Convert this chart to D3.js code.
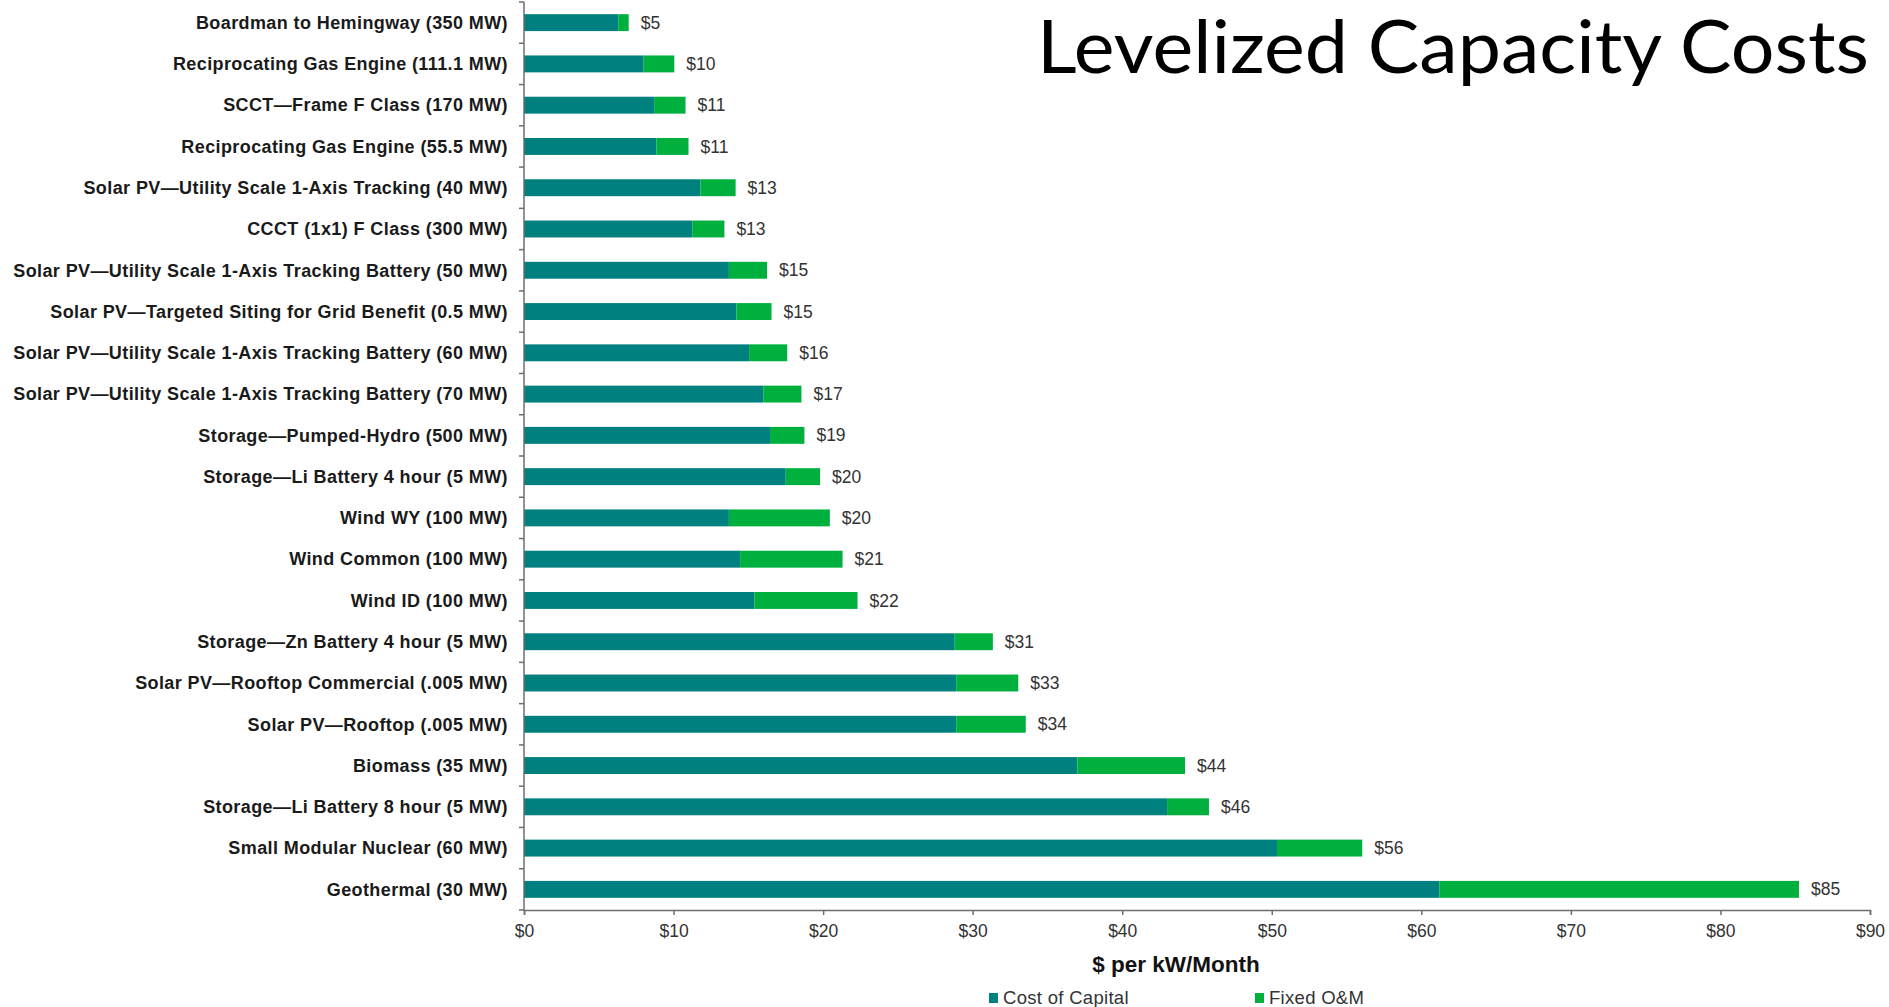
<!DOCTYPE html>
<html>
<head>
<meta charset="utf-8">
<script src="https://cdn.jsdelivr.net/npm/d3@7"></script>
<style>
  html, body { margin: 0; padding: 0; background: #ffffff; }
  svg { display: block; }
  .cat-label { font-family: "Liberation Sans", Arial, sans-serif; font-weight: bold; font-size: 18px; letter-spacing: 0.4px; fill: #1a1a1a; }
  .val-label { font-family: "Liberation Sans", Arial, sans-serif; font-size: 17.5px; fill: #333333; }
  .x-axis text { font-family: "Liberation Sans", Arial, sans-serif; font-size: 17.5px; fill: #333333; }
  .axis-title { font-family: "Liberation Sans", Arial, sans-serif; font-weight: bold; font-size: 22.5px; fill: #111111; }
  .legend text { font-family: "Liberation Sans", Arial, sans-serif; font-size: 18.5px; letter-spacing: 0.3px; fill: #333333; }
  .title { font-family: Lato, "Open Sans", sans-serif; font-size: 74px; fill: #000000; }
</style>
</head>
<body>
<svg id="chart" width="1889" height="1007"></svg>
<script>
// Resource options, top to bottom
const categories = [
  "Boardman to Hemingway (350 MW)",
  "Reciprocating Gas Engine (111.1 MW)",
  "SCCT\u2014Frame F Class (170 MW)",
  "Reciprocating Gas Engine (55.5 MW)",
  "Solar PV\u2014Utility  Scale 1-Axis Tracking (40 MW)",
  "CCCT (1x1) F Class (300 MW)",
  "Solar PV\u2014Utility  Scale 1-Axis Tracking Battery (50 MW)",
  "Solar PV\u2014Targeted Siting for Grid Benefit (0.5 MW)",
  "Solar PV\u2014Utility  Scale 1-Axis Tracking Battery (60 MW)",
  "Solar PV\u2014Utility  Scale 1-Axis Tracking Battery (70 MW)",
  "Storage\u2014Pumped-Hydro (500 MW)",
  "Storage\u2014Li Battery 4 hour (5 MW)",
  "Wind WY (100 MW)",
  "Wind Common (100 MW)",
  "Wind ID (100 MW)",
  "Storage\u2014Zn Battery 4 hour (5 MW)",
  "Solar PV\u2014Rooftop  Commercial (.005 MW)",
  "Solar PV\u2014Rooftop  (.005 MW)",
  "Biomass (35 MW)",
  "Storage\u2014Li Battery 8 hour (5 MW)",
  "Small Modular Nuclear (60 MW)",
  "Geothermal (30 MW)"
];

// $ per kW/Month
const costOfCapital = [6.3, 8.0, 8.7, 8.85, 11.8, 11.25, 13.7, 14.2, 15.05, 16.0, 16.45, 17.5,
                       13.7, 14.45, 15.4, 28.8, 28.9, 28.9, 37.0, 43.0, 50.35, 61.2];
const fixedOM       = [0.7, 2.05, 2.1, 2.15, 2.35, 2.15, 2.55, 2.35, 2.55, 2.55, 2.3, 2.3,
                       6.75, 6.85, 6.9, 2.55, 4.15, 4.65, 7.2, 2.8, 5.7, 24.05];

// Published total labels printed beside each bar
const totalLabels = ["$5", "$10", "$11", "$11", "$13", "$13", "$15", "$15", "$16", "$17", "$19", "$20",
                     "$20", "$21", "$22", "$31", "$33", "$34", "$44", "$46", "$56", "$85"];

const xTicks = [0, 10, 20, 30, 40, 50, 60, 70, 80, 90];
const seriesNames = ["Cost of Capital", "Fixed O&M"];
const seriesColors = ["#00817f", "#00b03f"];

const svg = d3.select("#chart");

const plot = { left: 524, right: 1870, top: 2, bottom: 910 };

const x = d3.scaleLinear().domain([0, 90]).range([plot.left, plot.right]);
const y = d3.scaleBand().domain(categories).range([plot.top, plot.bottom])
  .paddingInner(0.59).paddingOuter(0.295);

// Stack the two cost components
const rows = categories.map((c, i) => ({ cat: c, cap: costOfCapital[i], om: fixedOM[i], label: totalLabels[i] }));
const stack = d3.stack().keys(["cap", "om"]);
const layers = stack(rows);

svg.append("g").selectAll("g")
  .data(layers)
  .join("g")
  .attr("fill", (d, i) => seriesColors[i])
  .selectAll("rect")
  .data(d => d)
  .join("rect")
  .attr("x", d => x(d[0]))
  .attr("y", d => y(d.data.cat))
  .attr("width", d => x(d[1]) - x(d[0]))
  .attr("height", y.bandwidth());

// Value labels
svg.append("g").selectAll("text")
  .data(rows)
  .join("text")
  .attr("class", "val-label")
  .attr("x", d => x(d.cap + d.om) + 12)
  .attr("y", d => y(d.cat) + y.bandwidth() / 2)
  .attr("dy", "0.35em")
  .text(d => d.label);

// Category axis
const yAxis = svg.append("g")
  .attr("transform", `translate(${plot.left},0)`)
  .call(d3.axisLeft(y).tickSize(0).tickPadding(16));
yAxis.select(".domain").remove();
yAxis.selectAll("text").attr("class", "cat-label").attr("dy", "0.35em");

// Tick marks between categories
const step = y.step();
const gap = (step - y.bandwidth()) / 2;
const bounds = categories.map(c => y(c) - gap).concat([y(categories[categories.length - 1]) + y.bandwidth() + gap]);
svg.append("g").selectAll("line")
  .data(bounds)
  .join("line")
  .attr("x1", plot.left - 5).attr("x2", plot.left)
  .attr("y1", d => d).attr("y2", d => d)
  .attr("stroke", "#6e6e6e").attr("stroke-width", 1.5);
svg.append("line")
  .attr("x1", plot.left).attr("x2", plot.left)
  .attr("y1", plot.top).attr("y2", plot.bottom)
  .attr("stroke", "#6e6e6e").attr("stroke-width", 1.5);

// Value axis
const xAxis = svg.append("g")
  .attr("class", "x-axis")
  .attr("transform", `translate(0,${plot.bottom})`)
  .call(d3.axisBottom(x).tickValues(xTicks).tickFormat(d => "$" + d).tickSize(5).tickPadding(10));
xAxis.select(".domain").attr("stroke", "#6e6e6e").attr("stroke-width", 1.5);
xAxis.selectAll(".tick line").attr("stroke", "#6e6e6e").attr("stroke-width", 1.5);

svg.append("text")
  .attr("class", "axis-title")
  .attr("x", 1176).attr("y", 972)
  .attr("text-anchor", "middle")
  .text("$ per kW/Month");

// Legend
const legend = svg.append("g").attr("class", "legend");
const legendX = [989, 1255];
seriesNames.forEach((name, i) => {
  const g = legend.append("g").attr("transform", `translate(${legendX[i]},993)`);
  g.append("rect").attr("width", 9).attr("height", 10).attr("fill", seriesColors[i]);
  g.append("text").attr("x", 14).attr("y", 5).attr("dy", "0.35em").text(name);
});

// Chart title, stretched to fill its slot on the right
const titleLeft = 1037, titleWidth = 832;
svg.append("text")
  .attr("class", "title")
  .attr("x", titleLeft).attr("y", 73)
  .attr("textLength", titleWidth)
  .attr("lengthAdjust", "spacingAndGlyphs")
  .text("Levelized Capacity Costs");
</script>
</body>
</html>
